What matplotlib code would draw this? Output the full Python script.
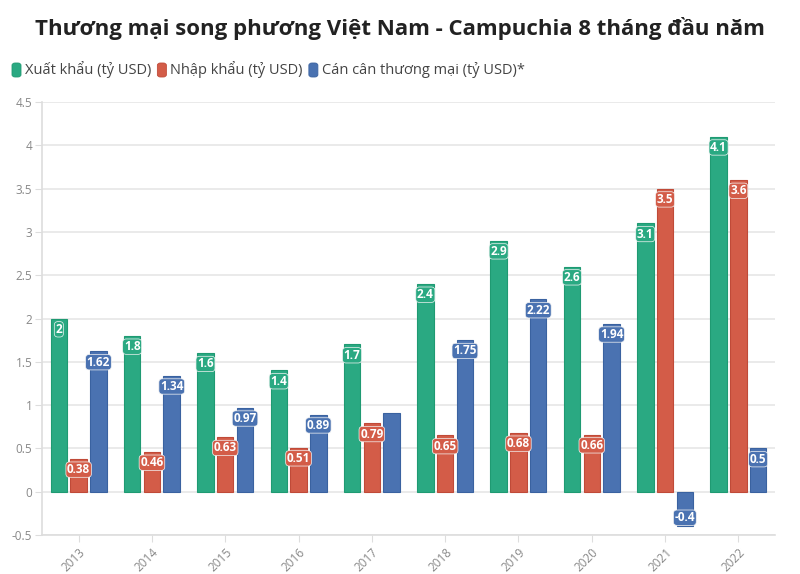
import matplotlib
matplotlib.use("Agg")
import matplotlib.pyplot as plt
import numpy as np
from matplotlib.patches import FancyBboxPatch

years = ["2013", "2014", "2015", "2016", "2017", "2018", "2019", "2020", "2021", "2022"]
xuat_khau = [2, 1.8, 1.6, 1.4, 1.7, 2.4, 2.9, 2.6, 3.1, 4.1]
nhap_khau = [0.38, 0.46, 0.63, 0.51, 0.79, 0.65, 0.68, 0.66, 3.5, 3.6]
can_can = [1.62, 1.34, 0.97, 0.89, 0.91, 1.75, 2.22, 1.94, -0.4, 0.5]
can_can_labels = ["1.62", "1.34", "0.97", "0.89", "", "1.75", "2.22", "1.94", "-0.4", "0.5"]
xk_labels = ["2", "1.8", "1.6", "1.4", "1.7", "2.4", "2.9", "2.6", "3.1", "4.1"]
nk_labels = ["0.38", "0.46", "0.63", "0.51", "0.79", "0.65", "0.68", "0.66", "3.5", "3.6"]
series_names = ["Xuất khẩu (tỷ USD)", "Nhập khẩu (tỷ USD)", "Cán cân thương mại (tỷ USD)*"]
title = "Thương mại song phương Việt Nam - Campuchia 8 tháng đầu năm"

colors = ["#2aa982", "#d35c48", "#4a72b1"]
edges = ["#1f9a72", "#c04a38", "#3a62a0"]

plt.rcParams['font.family'] = ['Open Sans', 'DejaVu Sans']

fig = plt.figure(figsize=(8, 5.74), dpi=100)
ax = fig.add_axes([42/800, 1-535/574, (775-42)/800, (535-102)/574])

x = np.arange(len(years))
w = 0.225
off = 0.27
series = [xuat_khau, nhap_khau, can_can]
labels = [xk_labels, nk_labels, can_can_labels]
for i, (vals, labs) in enumerate(zip(series, labels)):
    pos = x + (i - 1) * off
    ax.bar(pos, vals, width=w, color=colors[i], edgecolor=edges[i], linewidth=0.8, zorder=3)
    for xp, v, lab in zip(pos, vals, labs):
        if not lab:
            continue
        if v >= 0:
            yy = v - 0.125
        else:
            yy = v + 0.1
        ax.text(xp, yy, lab, ha='center', va='center', fontsize=8.5, fontweight='bold',
                color='white', zorder=5,
                bbox=dict(boxstyle='round,pad=0.1,rounding_size=0.3', fc=colors[i], ec='#f4f4f4', lw=0.5))

ax.set_xlim(-0.5, len(years) - 0.5)
ax.set_ylim(-0.5, 4.5)
ax.set_yticks(np.arange(-0.5, 4.51, 0.5))
ax.set_yticklabels([f"{t:g}" for t in np.arange(-0.5, 4.51, 0.5)])
ax.set_xticks(x)
ax.set_xticklabels(years, rotation=45, ha='right', rotation_mode='anchor')
ax.yaxis.grid(True, color='#e6e6e6', linewidth=1.2, zorder=0)
ax.set_axisbelow(True)
for s in ['top', 'right']:
    ax.spines[s].set_visible(False)
ax.spines['left'].set_color('#dddddd')
ax.spines['bottom'].set_color('#dddddd')
ax.spines['left'].set_linewidth(1.2)
ax.spines['bottom'].set_linewidth(1.2)
ax.tick_params(axis='y', length=5, color='#dddddd', labelsize=8.5, labelcolor='#888888', pad=2)
ax.tick_params(axis='x', length=5, color='#dddddd', labelsize=8.5, labelcolor='#888888', pad=3)

fig.text(0.5, 1 - 28/574, title, ha='center', va='center', fontsize=16, fontweight='bold', color='#222222')

# legend
lx = 12
ly = 70
for i, name in enumerate(series_names):
    rect = FancyBboxPatch((lx/800, 1 - (ly + 7)/574), 9/800, 14/574,
                          boxstyle='round,pad=0,rounding_size=0.004', transform=fig.transFigure,
                          fc=colors[i], ec=edges[i], lw=0.6)
    fig.patches.append(rect)
    t = fig.text((lx + 13)/800, 1 - ly/574, name, ha='left', va='center', fontsize=10.5, color='#444444')
    fig.canvas.draw()
    bb = t.get_window_extent()
    lx = bb.x1 + 6

fig.savefig("out.png", dpi=100)
